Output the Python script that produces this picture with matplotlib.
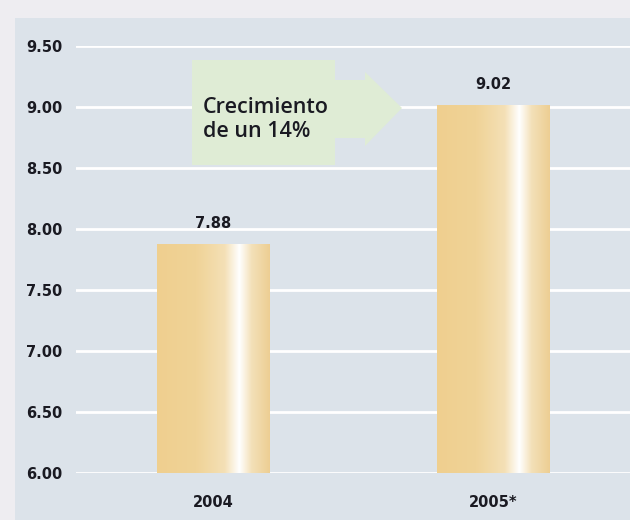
import numpy as np
import matplotlib
matplotlib.use('Agg')
import matplotlib.pyplot as plt
from matplotlib.colors import LinearSegmentedColormap
from matplotlib.patches import Rectangle, Polygon

plt.rcParams['font.family'] = ['DejaVu Sans']

# data
years = ['2004', '2005*']
values = [7.88, 9.02]
yticks = [6.00, 6.50, 7.00, 7.50, 8.00, 8.50, 9.00, 9.50]

W, H = 630, 520
fig = plt.figure(figsize=(W / 100, H / 100), dpi=100)
fig.patch.set_facecolor('#EEEDF1')

def fx(px):
    return px / W

def fy(py):
    return 1 - py / H

# light blue panel behind the chart
fig.patches.append(Rectangle((fx(15), 0), 1 - fx(15), fy(18), transform=fig.transFigure,
                             facecolor='#DCE3EA', edgecolor='none', zorder=-1))

# cut off title descender at the top
fig.text(fx(498), fy(-4), 'y', fontsize=15, fontweight='bold', color='#111111',
         va='baseline', ha='left')

ax = fig.add_axes([fx(76), fy(473), 1 - fx(76), fy(46) - fy(473)])
ax.set_zorder(1)
ax.set_facecolor('none')
ax.set_ylim(6.0, 9.5)

for y in yticks:
    ax.axhline(y, color='white', lw=2, zorder=1)

x = np.arange(len(years))
bars = ax.bar(x, values, width=0.4, bottom=0, color='#EFD092', zorder=2)

# gradient fill for the bars
cmap = LinearSegmentedColormap.from_list('bar', [
    (0.0, '#EFCF8F'), (0.35, '#F0D397'), (0.6, '#F4E0B6'),
    (0.73, '#FFFFFF'), (0.84, '#F3E0B8'), (1.0, '#EDCE93')])
grad = np.linspace(0, 1, 256).reshape(1, -1)
for b in bars:
    x0, w, h = b.get_x(), b.get_width(), b.get_height()
    im = ax.imshow(grad, cmap=cmap, aspect='auto', extent=[x0, x0 + w, 6.0, h],
                   zorder=3, interpolation='bilinear')
    im.set_clip_path(b)

for xi, v in zip(x, values):
    ax.annotate(f'{v:.2f}', (xi, v), xytext=(0, 9), textcoords='offset points',
                ha='center', va='bottom', fontsize=10.5, fontweight='bold', color='#1A1A22')

ax.set_yticks(yticks)
ax.set_yticklabels([f'{t:.2f}' for t in yticks])
ax.set_xticks(x)
ax.set_xticklabels(years)
ax.tick_params(axis='y', length=0, pad=10, labelsize=10.5, labelcolor='#1A1A22')
ax.tick_params(axis='x', length=0, pad=16, labelsize=10.5, labelcolor='#1A1A22')
for lab in ax.get_xticklabels() + ax.get_yticklabels():
    lab.set_fontweight('bold')
for s in ax.spines.values():
    s.set_visible(False)
ax.set_xlim(-0.489, 1.489)
ax.set_ylim(6.0, 9.5)

# growth arrow
pts = [(192, 60), (335, 60), (335, 80), (365, 80), (365, 72), (402, 108),
       (365, 146), (365, 138), (335, 138), (335, 165), (192, 165)]
fig.patches.append(Polygon([(fx(px), fy(py)) for px, py in pts], closed=True,
                           transform=fig.transFigure, facecolor='#DFECD5',
                           edgecolor='none', zorder=5))
fig.text(fx(203), fy(137), 'Crecimiento\nde un 14%', fontsize=15.5, fontweight='semibold',
         family=['Open Sans', 'DejaVu Sans'],
         color='#1A1A22', ha='left', va='baseline', linespacing=1.2, zorder=6)

fig.savefig('out.png', dpi=100, facecolor=fig.get_facecolor())
